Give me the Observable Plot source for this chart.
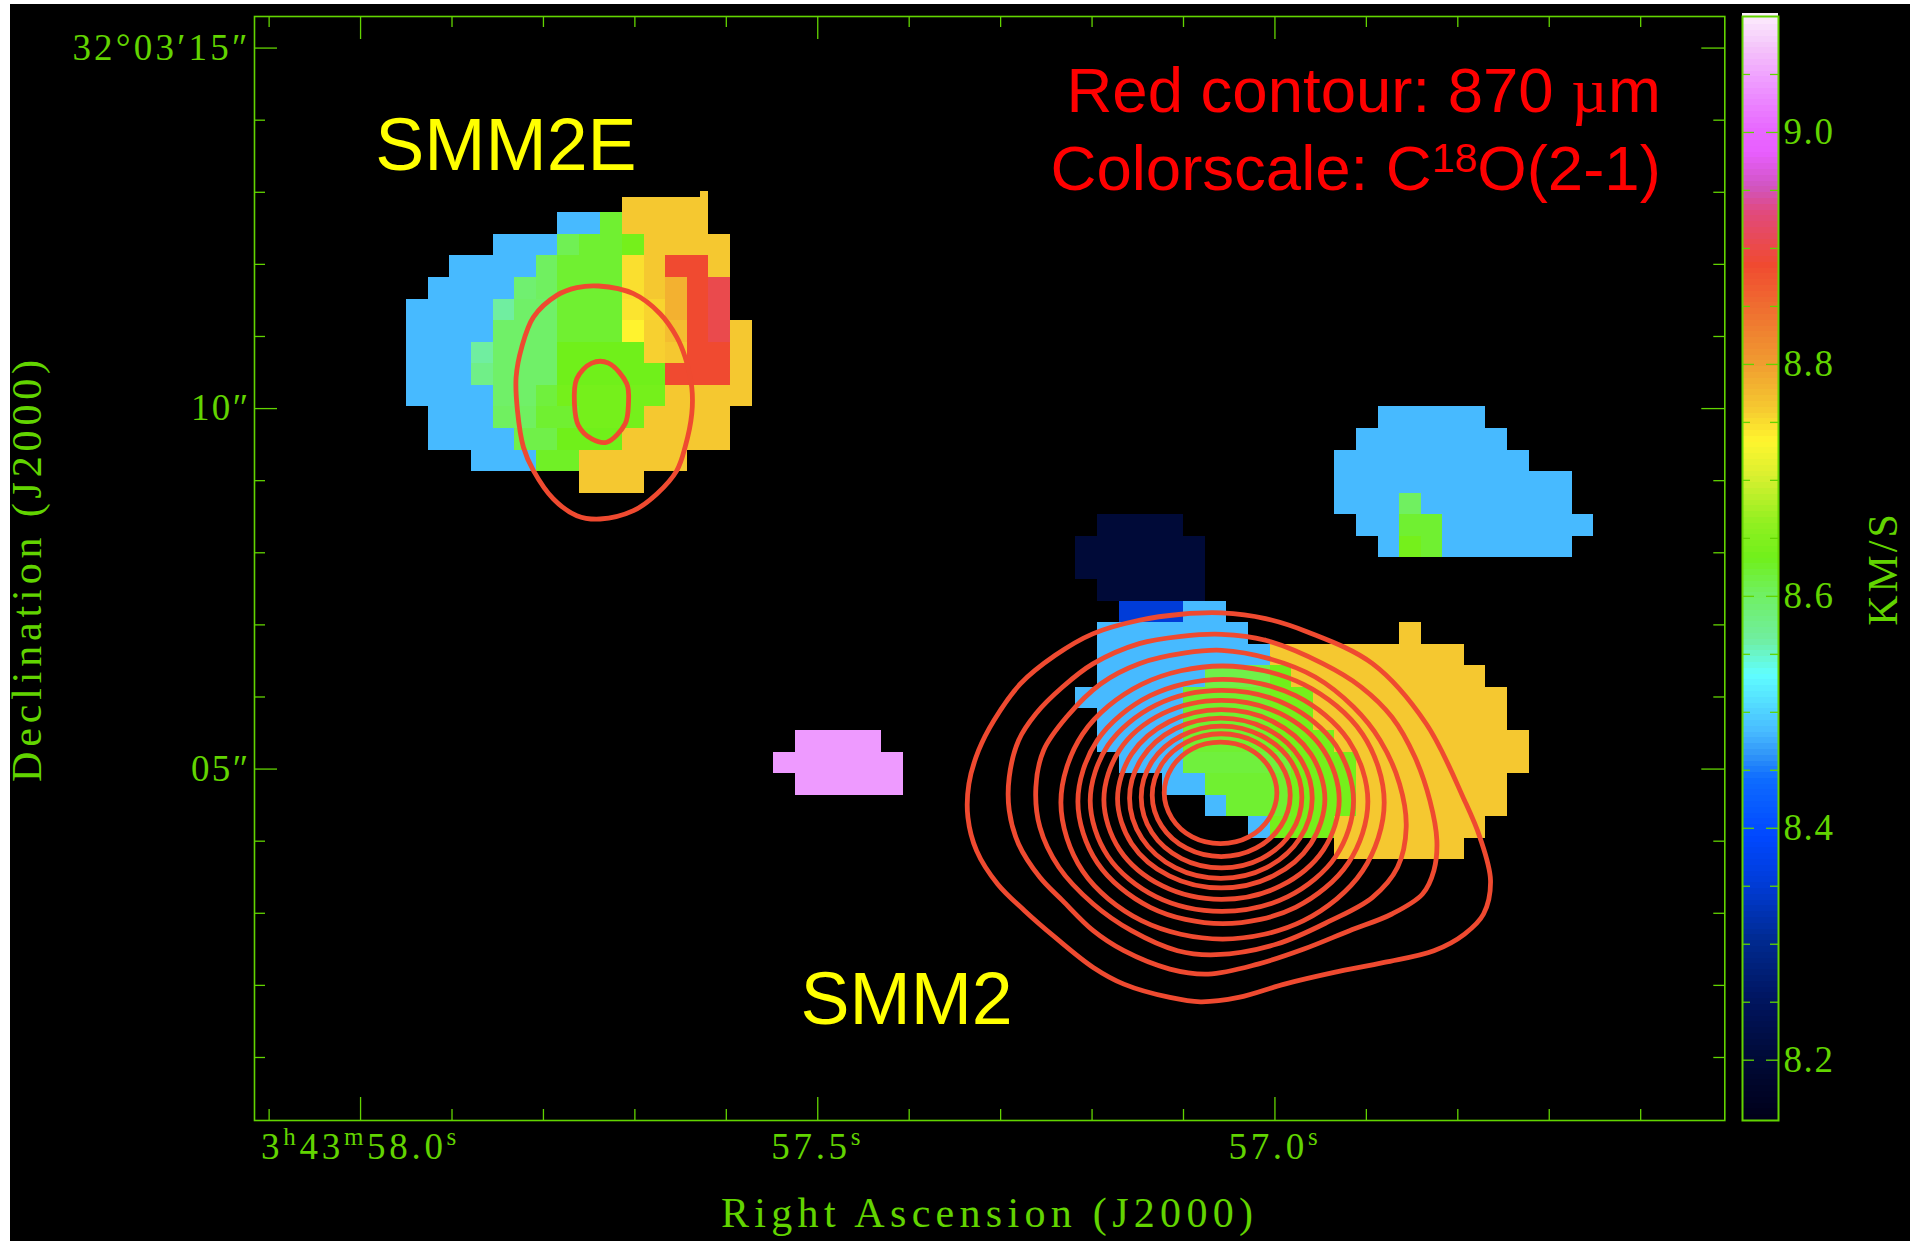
<!DOCTYPE html>
<html>
<head>
<meta charset="utf-8">
<script src="https://cdn.jsdelivr.net/npm/d3@7"></script>
<script src="https://cdn.jsdelivr.net/npm/@observablehq/plot@0.6"></script>
<style>
html,body{margin:0;padding:0;background:#fff;overflow:hidden}
#page{position:relative;width:1919px;height:1241px;overflow:hidden}
#sky{position:absolute;left:10px;top:4px;width:1900px;height:1237px;background:#000}
#main,#bar{position:absolute;top:0}
#main{left:0}
#bar{left:1730px}
svg{display:block}
</style>
</head>
<body>
<div id="page"><div id="sky"></div><div id="main"></div><div id="bar"></div></div>
<script>
const green = "#62d400";
const contourRed = "#ef4a30";

// sky axis ticks
const raMajor = [58.0, 57.5, 57.0];
const raMinor = [58.1, 57.9, 57.8, 57.7, 57.6, 57.4, 57.3, 57.2, 57.1, 56.9, 56.8, 56.7, 56.6];
const raLabels = ["3h43m58.0s", "57.5s", "57.0s"];
const decMajor = [15, 10, 5];
const decMinor = [14, 13, 12, 11, 9, 8, 7, 6, 4, 3, 2, 1];
const decLabels = ["05\u2033", "10\u2033", "32\u00b003\u203215\u2033"];

// colour bar (km/s)
const velDomain = [8.148, 9.1];
const velMajor = [8.2, 8.4, 8.6, 8.8, 9.0];
const velMinor = [8.25, 8.3, 8.35, 8.45, 8.5, 8.55, 8.65, 8.7, 8.75, 8.85, 8.9, 8.95, 9.05];
const velStops = [8.148, 8.2, 8.25, 8.3, 8.35, 8.39, 8.44, 8.46, 8.48, 8.53, 8.56, 8.6, 8.63, 8.66, 8.7, 8.731, 8.76, 8.8, 8.833, 8.883, 8.93, 8.95, 8.98, 9.0, 9.04, 9.07, 9.1];
const velColors = ["#00001a", "#000a38", "#001560", "#002a90", "#003cd8", "#0048ff", "#0e6cff", "#2f94f8", "#47baff", "#60ffff", "#70eea0", "#70f060", "#70f01a", "#90f020", "#d8f030", "#fff52e", "#f5c830", "#f09a30", "#ef7a30", "#f04a30", "#e04a80", "#d055c0", "#e85eff", "#e868ff", "#ee9aff", "#f4c4fa", "#fdf0fd"];

// map grid of the C18O first-moment image
const raCol0 = 57.9495, raPerCol = 0.023605;
const decRow1 = 12.716, decPerRow = 0.29917;

// velocity cells: [row, first column, end column, km/s]
const cellsSMM2E = [
  [0.3,10,14,8.76,1], [0,13.6,14,8.76,0.3],
  [1,7,9,8.48],[1,9,10,8.62],[1,10,14,8.76],
  [2,4,7,8.48],[2,7,8,8.605],[2,8,10,8.62],[2,10,11,8.635],[2,11,15,8.76],
  [3,2,6,8.48],[3,6,7,8.6],[3,7,10,8.62],[3,10,11,8.745],[3,11,12,8.76],[3,12,14,8.883],[3,14,15,8.76],
  [4,1,5,8.48],[4,5,6,8.59],[4,6,7,8.6],[4,7,10,8.62],[4,10,11,8.745],[4,11,12,8.76],[4,12,13,8.78],[4,13,14,8.883],[4,14,15,8.9],
  [5,0,4,8.48],[5,4,5,8.56],[5,5,7,8.595],[5,7,10,8.62],[5,10,11,8.742],[5,11,12,8.752],[5,12,13,8.78],[5,13,14,8.883],[5,14,15,8.9],
  [6,0,4,8.48],[6,4,7,8.595],[6,7,10,8.62],[6,10,11,8.732],[6,11,12,8.755],[6,12,13,8.77],[6,13,14,8.883],[6,14,15,8.9],[6,15,16,8.76],
  [7,0,3,8.48],[7,3,4,8.56],[7,4,7,8.595],[7,7,11,8.63],[7,11,12,8.755],[7,12,13,8.76],[7,13,15,8.883],[7,15,16,8.76],
  [8,0,3,8.48],[8,3,4,8.575],[8,4,7,8.595],[8,7,12,8.63],[8,12,15,8.883],[8,15,16,8.76],
  [9,0,4,8.48],[9,4,6,8.595],[9,6,7,8.615],[9,7,12,8.635],[9,12,16,8.76],
  [10,1,4,8.48],[10,4,6,8.6],[10,6,8,8.62],[10,8,11,8.635],[10,11,15,8.76],
  [11,1,5,8.48],[11,5,7,8.61],[11,7,10,8.63],[11,10,15,8.76],
  [12,3,6,8.48],[12,6,8,8.625],[12,8,13,8.76],
  [13,8,11,8.76]
];
const cellsSMM2 = [
  [15,32,36,8.2],[16,31,37,8.2],[17,31,37,8.2],[18,32,37,8.2],
  [19,33,36,8.35],[19,36,38,8.48],
  [20,32,39,8.48],[20,46,47,8.76],
  [21,32,40,8.48],[21,40,49,8.76],
  [22,32,37,8.48],[22,37,40,8.61],[22,40,41,8.63],[22,41,50,8.76],
  [23,31,36,8.48],[23,36,40,8.62],[23,40,42,8.635],[23,42,51,8.76],
  [24,32,36,8.48],[24,36,40,8.62],[24,40,42,8.635],[24,42,51,8.76],
  [25,32,36,8.48],[25,36,40,8.62],[25,40,43,8.635],[25,43,52,8.76],
  [26,33,36,8.48],[26,36,41,8.615],[26,41,44,8.635],[26,44,52,8.76],
  [27,35,37,8.48],[27,37,41,8.62],[27,41,44,8.635],[27,44,51,8.76],
  [28,37,38,8.48],[28,38,41,8.62],[28,41,44,8.635],[28,44,51,8.76],
  [29,39,40,8.48],[29,40,43,8.635],[29,43,50,8.76],
  [30,43,49,8.76]
];
const cellsEastClump = [
  [10,45,50,8.48],[11,44,51,8.48],[12,43,52,8.48],[13,43,54,8.48],
  [14,43,46,8.48],[14,46,47,8.6],[14,47,54,8.48],
  [15,44,46,8.48],[15,46,48,8.62],[15,48,55,8.48],
  [16,45,46,8.48],[16,46,47,8.635],[16,47,48,8.62],[16,48,54,8.48]
];
const cellsPink = [
  [25,18,22,9.04],[26,17,23,9.04],[27,18,23,9.04]
];

// 870 micron contours: offsets from each peak, read in 1/216 arcsec (west, north)
const offsetUnitsPerArcsec = 216;
const arcsecPerRaSecond = 12.7;
const peakSMM2E = [57.7362, 10.089];
const contoursSMM2E = [
  [[-10,348],[95,325],[175,265],[225,195],[250,135],[270,45],[270,-35],[250,-135],[225,-205],[165,-275],[95,-325],[-5,-350],[-75,-340],[-145,-290],[-205,-205],[-235,-135],[-253,-25],[-257,75],[-240,165],[-205,255],[-135,320],[-75,343]],
  [[-30,117],[20,117],[75,55],[80,-5],[70,-65],[15,-120],[-30,-110],[-70,-70],[-82,-5],[-75,70]]
];
const peakSMM2 = [57.0325, 4.703];
const contoursSMM2 = [
  [[95,-7],[72,69],[11,125],[-74,145],[-159,125],[-220,69],[-243,-7],[-220,-83],[-159,-139],[-74,-159],[11,-139],[72,-83]],
  [[135,-14],[107,78],[32,145],[-72,170],[-176,145],[-251,78],[-279,-14],[-251,-106],[-176,-173],[-72,-198],[32,-173],[107,-106]],
  [[170,-20],[138,86],[49,164],[-71,193],[-191,164],[-280,86],[-312,-20],[-280,-126],[-191,-204],[-71,-232],[49,-204],[138,-126]],
  [[201,-23],[164,97],[64,185],[-73,217],[-210,185],[-310,97],[-347,-23],[-310,-143],[-210,-231],[-73,-263],[64,-231],[164,-143]],
  [[239,-25],[197,109],[84,206],[-72,242],[-228,206],[-341,109],[-383,-25],[-341,-159],[-228,-256],[-72,-292],[84,-256],[197,-159]],
  [[282,-28],[235,121],[106,230],[-71,270],[-248,230],[-377,121],[-424,-28],[-377,-177],[-248,-286],[-71,-326],[106,-286],[235,-177]],
  [[325,-31],[272,135],[128,256],[-70,300],[-268,256],[-412,135],[-465,-31],[-412,-197],[-268,-318],[-70,-362],[128,-318],[272,-197]],
  [[368,-33],[310,150],[151,284],[-67,333],[-285,284],[-444,150],[-502,-33],[-444,-216],[-285,-350],[-67,-399],[151,-350],[310,-216]],
  [[417,-36],[352,169],[175,318],[-68,373],[-311,318],[-488,169],[-553,-36],[-488,-241],[-311,-390],[-68,-445],[175,-390],[352,-241]],
  [[-71,420],[72,395],[210,340],[325,250],[405,150],[463,20],[483,-110],[457,-230],[382,-320],[256,-390],[95,-460],[-88,-492],[-203,-480],[-341,-420],[-456,-340],[-559,-230],[-616,-110],[-628,10],[-605,120],[-536,220],[-433,320],[-318,380],[-180,412]],
  [[-71,468],[61,450],[233,380],[348,310],[440,220],[509,100],[554,-30],[575,-150],[566,-240],[532,-310],[440,-370],[313,-420],[176,-475],[38,-520],[-111,-550],[-226,-535],[-364,-480],[-456,-420],[-548,-330],[-616,-260],[-680,-160],[-708,-60],[-708,40],[-680,150],[-628,230],[-548,310],[-456,380],[-318,440],[-192,462]],
  [[-71,532],[61,515],[187,475],[382,380],[543,200],[658,-30],[704,-140],[736,-270],[715,-370],[658,-430],[566,-480],[417,-515],[267,-545],[118,-580],[-20,-620],[-134,-633],[-226,-620],[-364,-580],[-456,-530],[-570,-440],[-662,-360],[-743,-280],[-806,-180],[-832,-80],[-829,20],[-800,120],[-754,210],[-674,320],[-570,405],[-456,470],[-318,510],[-192,528]]
];

// annotations: [text, RA seconds, Dec arcsec]
const sourceLabels = [["SMM2E", 57.984, 13.63], ["SMM2", 57.519, 1.785]];
const noteLabels = [["Red contour: 870 \u00b5m", 56.578, 14.4], ["Colorscale: C18O(2-1)", 56.578, 13.315]];

const raOf = c => raCol0 - c * raPerCol;
const decOf = r => decRow1 - (r - 1) * decPerRow;
const cells = [...cellsSMM2E, ...cellsSMM2, ...cellsEastClump, ...cellsPink].map(([r, c0, c1, v, rEnd]) => ({
  x1: raOf(c0), x2: raOf(c1), y1: decOf(r), y2: decOf(rEnd === undefined ? r + 1 : rEnd), v
}));
const contourRows = (list, peak, tag) => list.flatMap((loop, i) => loop.map(([w, n]) => ({
  ra: peak[0] - (w / offsetUnitsPerArcsec) / arcsecPerRaSecond,
  dec: peak[1] + n / offsetUnitsPerArcsec,
  id: tag + i
})));
const contours = [...contourRows(contoursSMM2E, peakSMM2E, "E"), ...contourRows(contoursSMM2, peakSMM2, "S")];

const colorScale = {type: "linear", domain: velStops, range: velColors, interpolate: "rgb"};
const raTickText = new Map(raMajor.map((v, i) => [v, raLabels[i]]));
const decTickText = new Map(decMajor.slice().reverse().map((v, i) => [v, decLabels[i]]));
const frameW = 1470.3, frameH = 1104;

const main = Plot.plot({
  width: 1919, height: 1241,
  marginLeft: 254, marginRight: 194.7, marginTop: 16, marginBottom: 121,
  style: {background: "transparent", fontFamily: "Liberation Serif", color: green},
  x: {domain: [58.116, 56.508]},
  y: {domain: [0.126, 15.438]},
  color: colorScale,
  marks: [
    Plot.rect(cells, {x1: "x1", x2: "x2", y1: "y1", y2: "y2", fill: "v", shapeRendering: "crispEdges"}),
    Plot.line(contours, {x: "ra", y: "dec", z: "id", stroke: contourRed, strokeWidth: 4.8, curve: "catmull-rom-closed"}),
    Plot.frame({stroke: green, strokeWidth: 1.6}),
    Plot.ruleX(raMinor, {stroke: green, strokeWidth: 1.3, insetTop: frameH - 11}),
    Plot.ruleX(raMinor, {stroke: green, strokeWidth: 1.3, insetBottom: frameH - 11}),
    Plot.ruleX(raMajor, {stroke: green, strokeWidth: 1.3, insetTop: frameH - 23}),
    Plot.ruleX(raMajor, {stroke: green, strokeWidth: 1.3, insetBottom: frameH - 23}),
    Plot.ruleY(decMinor, {stroke: green, strokeWidth: 1.3, insetRight: frameW - 11}),
    Plot.ruleY(decMinor, {stroke: green, strokeWidth: 1.3, insetLeft: frameW - 11}),
    Plot.ruleY(decMajor, {stroke: green, strokeWidth: 1.3, insetRight: frameW - 23}),
    Plot.ruleY(decMajor, {stroke: green, strokeWidth: 1.3, insetLeft: frameW - 23}),
    Plot.axisX({anchor: "bottom", ticks: raMajor, tickSize: 0, tickPadding: 12, fontSize: 37, tickFormat: v => raTickText.get(v),
      label: "Right Ascension (J2000)", labelAnchor: "center", labelArrow: "none", labelOffset: 106}),
    Plot.axisY({anchor: "left", ticks: decMajor, tickSize: 0, tickPadding: 4, fontSize: 37, tickFormat: v => decTickText.get(v),
      label: "Declination (J2000)", labelAnchor: "center", labelArrow: "none", labelOffset: 243}),
    Plot.text(sourceLabels, {x: d => d[1], y: d => d[2], text: d => d[0], fill: "#ffff00", fontFamily: "Liberation Sans", fontSize: 73.5, textAnchor: "start"}),
    Plot.text(noteLabels, {x: d => d[1], y: d => d[2], text: d => d[0], fill: "#ff0000", fontFamily: "Liberation Sans", fontSize: 63.5, textAnchor: "end"})
  ]
});

const barLevels = d3.range(velDomain[0], velDomain[1], 0.005);
const barW = 36;
const bar = Plot.plot({
  width: 189, height: 1241,
  marginLeft: 12, marginRight: 141, marginTop: 16, marginBottom: 121,
  style: {background: "transparent", fontFamily: "Liberation Serif", color: green},
  y: {domain: velDomain},
  color: colorScale,
  marks: [
    Plot.rect(barLevels, {y1: d => d, y2: d => d + 0.005, fill: d => d, shapeRendering: "crispEdges"}),
    Plot.frame({stroke: green, strokeWidth: 2}),
    Plot.ruleY(velMinor, {stroke: green, strokeWidth: 1.3, insetRight: barW - 8}),
    Plot.ruleY(velMinor, {stroke: green, strokeWidth: 1.3, insetLeft: barW - 8}),
    Plot.ruleY(velMajor, {stroke: green, strokeWidth: 1.3, insetRight: barW - 12}),
    Plot.ruleY(velMajor, {stroke: green, strokeWidth: 1.3, insetLeft: barW - 12}),
    Plot.axisY({anchor: "right", ticks: velMajor, tickSize: 0, tickPadding: 5, fontSize: 37, tickFormat: d3.format(".1f"), label: null}),
    Plot.text(["KM/S"], {frameAnchor: "right", rotate: -90, dx: 105, fontSize: 42, textAnchor: "middle", fill: green, text: d => d})
  ]
});

document.getElementById("main").appendChild(main);
document.getElementById("bar").appendChild(bar);

// raised parts of the labels stay real text
function rewrite(el, parts) {
  const sel = d3.select(el);
  sel.text(null);
  parts.forEach(([t, opts]) => {
    const s = sel.append("tspan").text(t);
    if (opts) Object.entries(opts).forEach(([k, v]) => s.attr(k, v));
  });
}
d3.select(main).selectAll("text").each(function() {
  const t = this.textContent;
  const isDec = decLabels.includes(t);
  if (t === "Colorscale: C18O(2-1)") {
    rewrite(this, [["Colorscale: C"], ["18", {"font-size": 41, dy: -18}], ["O(2-1)", {dy: 18}]]);
  } else if (t.startsWith("Red contour")) {
    rewrite(this, [["Red contour: 870 "], ["\u00b5", {"font-family": "Liberation Serif"}], ["m"]]);
  } else if (t === raLabels[0]) {
    d3.select(this).style("letter-spacing", "3.7px");
    rewrite(this, [["3"], ["h", {"font-size": 25, dy: -14}], ["43", {dy: 14}], ["m", {"font-size": 25, dy: -14}], ["58.0", {dy: 14}], ["s", {"font-size": 25, dy: -14}]]);
  } else if (t === raLabels[1] || t === raLabels[2]) {
    d3.select(this).style("letter-spacing", "3.7px");
    rewrite(this, [[t.slice(0, -1)], ["s", {"font-size": 25, dy: -14}]]);
  } else if (t === "Right Ascension (J2000)") {
    d3.select(this).attr("font-size", 42).style("letter-spacing", "5.3px");
  } else if (t === "Declination (J2000)") {
    d3.select(this).attr("font-size", 42).style("letter-spacing", "4.85px");
  } else if (isDec) {
    d3.select(this).style("letter-spacing", t.length > 4 ? "3.2px" : "2.4px");
  }
});
d3.select(bar).selectAll("text").each(function() {
  const t = this.textContent;
  d3.select(this).style("letter-spacing", t === "KM/S" ? "3px" : "1.6px");
});
</script>
</body>
</html>
